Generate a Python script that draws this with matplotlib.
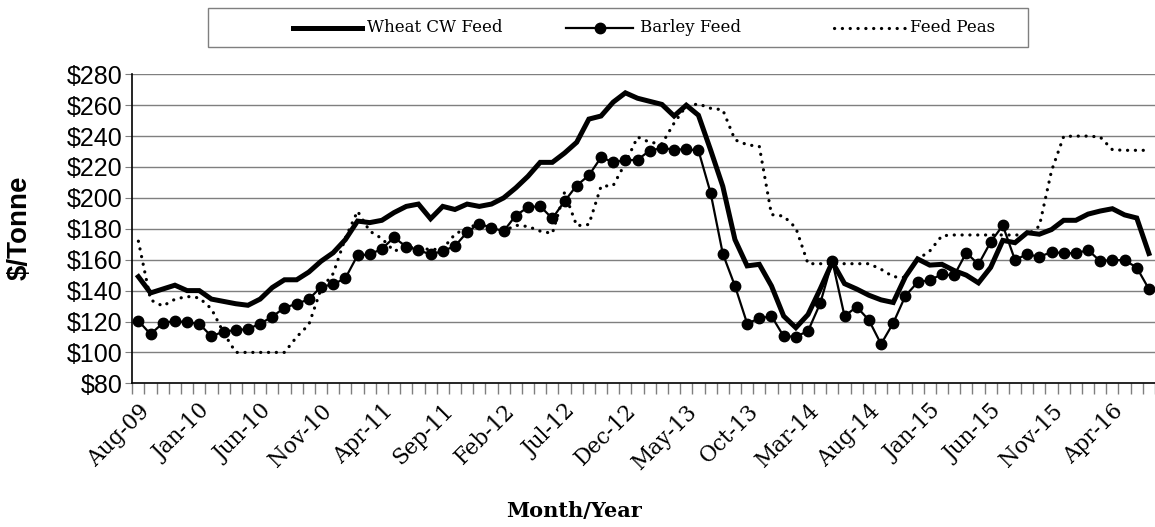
import matplotlib
matplotlib.use("Agg")
import matplotlib.pyplot as plt
from matplotlib.lines import Line2D
from matplotlib.patches import Rectangle

months = ["Aug-09","Sep-09","Oct-09","Nov-09","Dec-09","Jan-10","Feb-10","Mar-10","Apr-10","May-10","Jun-10","Jul-10",
          "Aug-10","Sep-10","Oct-10","Nov-10","Dec-10","Jan-11","Feb-11","Mar-11","Apr-11","May-11","Jun-11","Jul-11",
          "Aug-11","Sep-11","Oct-11","Nov-11","Dec-11","Jan-12","Feb-12","Mar-12","Apr-12","May-12","Jun-12","Jul-12",
          "Aug-12","Sep-12","Oct-12","Nov-12","Dec-12","Jan-13","Feb-13","Mar-13","Apr-13","May-13","Jun-13","Jul-13",
          "Aug-13","Sep-13","Oct-13","Nov-13","Dec-13","Jan-14","Feb-14","Mar-14","Apr-14","May-14","Jun-14","Jul-14",
          "Aug-14","Sep-14","Oct-14","Nov-14","Dec-14","Jan-15","Feb-15","Mar-15","Apr-15","May-15","Jun-15","Jul-15",
          "Aug-15","Sep-15","Oct-15","Nov-15","Dec-15","Jan-16","Feb-16","Mar-16","Apr-16","May-16","Jun-16","Jul-16"]

wheat = [149, 138.5, 141, 143.5, 140, 140, 134.5, 133, 131.5, 130.5, 134.5, 142,
         147, 147, 152, 159, 164.5, 173, 185, 184, 185.5, 190.5, 194.5, 196,
         186.5, 194.5, 192.5, 196, 194.5, 196, 200, 206.5, 214, 223, 223, 229,
         236, 251, 253, 262, 268, 264.5, 262.5, 260.5, 253, 260, 253.5, 231,
         207.5, 173, 156, 157, 143, 123.5, 116, 124.5, 141, 158.5, 144.5, 141,
         137, 134, 132.3, 149, 160.5, 156.5, 157, 153, 150, 145, 155, 172.5,
         171, 177.5, 176.5, 179.5, 185.5, 185.5, 189.5, 191.5, 193, 189, 187, 164]

barley = [120.4, 111.8, 118.9, 120.4, 119.4, 118.5, 110.4, 113.5, 114.4, 115.1, 118.6, 123.1,
          129, 131.4, 134.4, 142.4, 144.1, 148, 162.8, 163.4, 167, 174.4, 168.4, 166.2,
          163.4, 165.6, 168.8, 177.8, 183.4, 180.6, 178.5, 188.6, 194, 194.6, 186.7, 197.8,
          208, 214.6, 226.2, 223.2, 224.3, 224.7, 230.6, 232.3, 231.2, 231.5, 230.7, 203.2,
          163.9, 143, 118.7, 122, 123.5, 110.4, 110.2, 113.8, 131.7, 159, 123.5, 129.5,
          120.9, 105.4, 119, 136.6, 145.4, 146.8, 150.5, 149.8, 164.5, 157, 171.4, 182.2,
          159.8, 163.6, 161.8, 165, 164.2, 164.2, 166.2, 159.1, 159.8, 159.7, 154.9, 141]

peas = [172, 134, 130, 134.4, 136.2, 135.3, 128.2, 112.7, 100, 100, 100, 100,
        100, 110, 118, 141, 151, 174, 191.4, 178.5, 173.7, 165.6, 168, 167.7,
        166.5, 167, 176.5, 180.6, 183.2, 180.6, 178.5, 182.3, 181.5, 178.5, 177, 203.5,
        182, 182.8, 207.5, 208, 222.6, 239.4, 236, 235, 248.4, 259.5, 260.8, 258,
        257, 237.6, 234.4, 233.3, 189.2, 188.2, 180.6, 157.4, 157.4, 157.4, 157.4, 157.4,
        157.4, 153.8, 149, 148.5, 160.2, 165.6, 175.5, 176, 176, 176, 176, 176,
        176, 176, 181.7, 217.5, 239.8, 240, 240, 239.4, 231.2, 230.8, 230.8, 230.8]

series_names = ["Wheat CW Feed", "Barley Feed", "Feed Peas"]
yticks = list(range(80, 281, 20))
label_step = 5

W, H = 1155, 527
fig = plt.figure(figsize=(W / 100, H / 100), dpi=100)
left, top, bottom = 132.3, 74.3, 383.3
ax = fig.add_axes([left / W, 1 - bottom / H, (W - left) / W, (bottom - top) / H])

styles = [dict(color="black", lw=3.6, solid_joinstyle="miter"),
          dict(color="black", lw=1.6, marker="o", markersize=7.5),
          dict(color="black", lw=2.3, linestyle=(0, (0.05, 2.4)), dash_capstyle="round")]

x = list(range(len(months)))
for yv in yticks[1:]:
    ax.axhline(yv, color="#7f7f7f", lw=1.0, zorder=0)

ax.plot(x, wheat, zorder=3, **styles[0])
ax.plot(x, barley, zorder=4, **styles[1])
ax.plot(x, peas, zorder=2, **styles[2])

ax.set_ylim(80, 280)
ax.set_xlim(-0.5, -0.5 + (W - left) / 12.27)
ax.set_yticks(yticks)
ax.set_yticklabels([f"${v}" for v in yticks], fontname="Liberation Sans", fontsize=18)
ax.tick_params(axis="y", direction="out", length=5, color="#7f7f7f", pad=2)

ax.set_xticks([i for i in x if i % label_step == 0])
ax.set_xticklabels([months[i] for i in x if i % label_step == 0], rotation=45,
                   ha="right", rotation_mode="anchor", fontname="DejaVu Serif", fontsize=15.5)
ax.set_xticks([i - 0.5 for i in range(len(months) + 1)], minor=True)
ax.tick_params(axis="x", which="major", length=0, pad=12)
ax.tick_params(axis="x", which="minor", direction="out", length=8, color="#7f7f7f", width=1)

for s in ["top", "right"]:
    ax.spines[s].set_visible(False)
for s in ["left", "bottom"]:
    ax.spines[s].set_color("black")
    ax.spines[s].set_linewidth(1.2)

fig.text(20 / W, 1 - 228 / H, "$/Tonne", rotation=90, ha="center", va="center",
         fontname="Liberation Sans", fontweight="bold", fontsize=20)
fig.text(574 / W, 1 - 511 / H, "Month/Year", ha="center", va="center",
         fontname="DejaVu Serif", fontweight="bold", fontsize=15)

# legend box drawn in figure pixels
fig.patches.append(Rectangle((208 / W, 1 - 47 / H), 820 / W, 39 / H, transform=fig.transFigure,
                             fill=False, edgecolor="#7f7f7f", lw=1.0))
ly = 1 - 28 / H
for (x0, x1, tx), name, st in zip([(293, 362, 367), (566, 633, 640), (834, 905, 910)],
                                   series_names, styles):
    st2 = dict(st)
    mk = st2.pop("marker", None)
    ms = st2.pop("markersize", None)
    fig.lines.append(Line2D([x0 / W, x1 / W], [ly, ly], transform=fig.transFigure, **st2))
    if mk:
        fig.lines.append(Line2D([(x0 + x1) / 2 / W], [ly], transform=fig.transFigure,
                                color="black", marker=mk, markersize=ms, lw=0))
    fig.text(tx / W, ly, name, ha="left", va="center", fontname="DejaVu Serif", fontsize=12)

fig.savefig("out.png", dpi=100)
